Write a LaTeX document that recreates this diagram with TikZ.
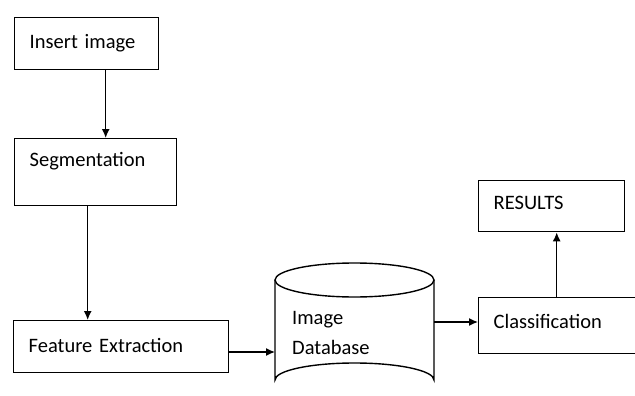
\documentclass[tikz,border=0pt]{standalone}
\usepackage{fontspec}
\setmainfont{Carlito}
\usetikzlibrary{positioning}
\usetikzlibrary{arrows.meta}

\begin{document}
\begin{tikzpicture}[x=1pt,y=-1pt,
	every node/.style={font=\fontsize{20.5}{30}\selectfont},
	box/.style={draw,line width=1.4pt,anchor=north west,inner ysep=0pt,inner xsep=15pt,align=left},
	arr/.style={-{Latex[length=9pt,width=8pt]},line width=1.4pt}]
	%% page size
	\useasboundingbox (0,0) rectangle (635,396);

	\def\cx{354.5} % centre of the drum
	\def\rx{79.5}
	\def\ry{17}

	\node[box,text width=114pt,text height=31pt,text depth=21pt] (ins) at (14,17) {Insert image};
	\node[box,text width=132pt,text height=28pt,text depth=39pt] (seg) at (14,138) {Segmentation};
	\node[box,text width=185pt,text height=32pt,text depth=20pt] (fex) at (13,320) {Feature Extraction};
	\node[box,text width=130pt,text height=31pt,text depth=25pt] (cls) at (478,297) {Classification};
	\node[box,text width=116pt,text height=29pt,text depth=22pt] (res) at (478,180) {RESULTS};

	% the database drum
	\draw[line width=1.4pt] (\cx-\rx,280) -- (\cx-\rx,380) arc[start angle=180,end angle=360,x radius=\rx,y radius=\ry] -- (\cx+\rx,280);
	\draw[line width=1.4pt] (\cx,280) ellipse[x radius=\rx,y radius=\ry];
	\node[align=left,inner sep=0pt,anchor=base west] (db) at (292,354) {Image\\Database};
	\coordinate (dbW) at (\cx-\rx,352);
	\coordinate (dbE) at (\cx+\rx,322);

	\draw[arr] ([xshift=19pt]ins.south) -- ([xshift=19pt]ins.south |- seg.north);
	\draw[arr] ([xshift=-8pt]seg.south) -- ([xshift=-8pt]seg.south |- fex.north);
	\draw[arr] (fex.east |- dbW) -- (dbW);
	\draw[arr] (dbE) -- (dbE -| cls.west);
	\draw[arr] ([xshift=-2pt]cls.north) -- ([xshift=-2pt]cls.north |- res.south);
\end{tikzpicture}
\end{document}
